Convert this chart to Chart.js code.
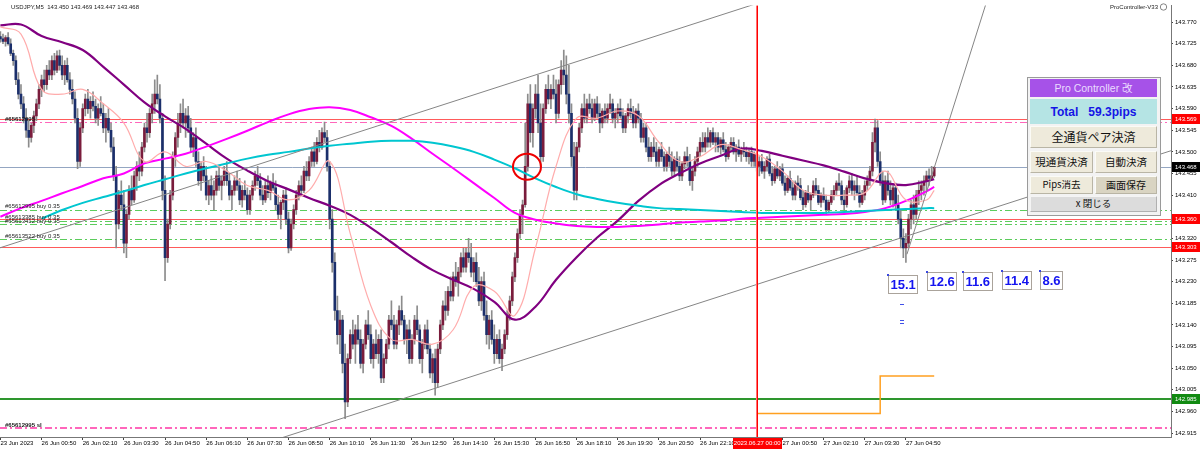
<!DOCTYPE html>
<html><head><meta charset="utf-8">
<script src="https://cdn.jsdelivr.net/npm/chart.js"></script>
<style>
html,body{margin:0;padding:0;background:#fff;}
#wrap{position:relative;width:1200px;height:450px;overflow:hidden;}
#c{position:absolute;left:0;top:0;}
.pnl{position:absolute;left:1027px;top:77px;width:134px;height:139px;background:#f3f3f3;border:1px solid #9a9a9a;box-sizing:border-box;}
.b{position:absolute;box-sizing:border-box;display:flex;align-items:center;justify-content:center;white-space:pre;font-family:"Noto Sans CJK JP","Liberation Sans",sans-serif;color:#111;border:1px solid;border-color:#fbfbf6 #b9b5a5 #b9b5a5 #fbfbf6;background:#eeeadb;line-height:1;}
</style></head><body>
<div id="wrap">
<canvas id="c" width="1200" height="450"></canvas>
<div class="pnl"></div>
<div class="b" style="left:1030px;top:79px;width:127px;height:18px;background:#a652e8;color:#eadcff;border-color:#a652e8;font-family:'Liberation Sans','Noto Sans CJK JP',sans-serif;font-size:10.5px;">Pro Controller 改</div>
<div class="b" style="left:1030px;top:99px;width:127px;height:25px;background:#b5e4e4;color:#1414e6;border-color:#b5e4e4;font-family:'Liberation Sans',sans-serif;font-weight:bold;font-size:12px;">Total   59.3pips</div>
<div class="b" style="left:1030px;top:126px;width:127px;height:22px;font-size:12px;">全通貨ペア決済</div>
<div class="b" style="left:1030px;top:151px;width:63px;height:22px;font-size:10.5px;">現通貨決済</div>
<div class="b" style="left:1095px;top:151px;width:62px;height:22px;font-size:10.5px;">自動決済</div>
<div class="b" style="left:1030px;top:176px;width:63px;height:18px;font-size:9.5px;">Pips消去</div>
<div class="b" style="left:1095px;top:176px;width:62px;height:18px;font-size:10px;background:#d9d4c2;">画面保存</div>
<div class="b" style="left:1030px;top:196px;width:127px;height:16px;font-size:9.5px;background:#dcdcdc;border-color:#f4f4f4 #b0b0b0 #b0b0b0 #f4f4f4;">x 閉じる</div>
</div>
<script>
// ---------------- DATA ----------------
// prices are BASE + value/1000
const BASE = 143;
const symbolTitle = "USDJPY,M5  143.450 143.469 143.447 143.468";
const indicatorName = "ProController-V33";

const openK = [
740,735,730,738,725,705,690,650,620,600, 570,545,530,555,575,600,630,650,640,670,
660,690,670,700,680,660,680,650,630,610, 570,480,550,590,610,590,605,595,570,590,
580,550,570,545,510,450,350,410,390,310, 370,420,400,450,470,460,510,550,540,580,
600,620,610,570,420,280,350,410,490,530, 560,580,560,575,550,510,530,480,440,470,
450,410,430,410,420,450,430,440,460,440, 410,420,440,430,400,420,410,380,410,430,
450,440,410,400,430,415,435,425,390,370, 395,410,360,300,350,380,410,430,420,460,
450,480,500,480,520,510,540,530,470,360, 270,170,120,150,60,-20,70,120,100,130,
110,60,100,140,120,70,100,80,110,30, 70,100,150,140,100,140,170,150,110,130,
70,110,150,130,70,100,130,90,40,70, 20,90,140,180,170,210,200,240,230,250,
280,260,290,280,250,270,230,190,230,160, 120,150,110,80,110,70,90,120,160,190,
240,280,330,370,390,470,600,540,590,620, 560,490,590,630,610,630,620,580,640,670,
660,620,580,490,420,510,550,590,570,600, 590,570,600,580,560,585,570,590,600,570,
580,590,575,550,575,590,580,560,585,570, 530,550,510,490,510,500,480,505,490,470,
495,480,460,485,470,450,475,490,480,440, 460,480,500,520,510,530,520,540,520,530,
510,525,505,490,510,520,500,510,495,505, 500,490,500,480,495,470,480,460,470,485,
455,440,465,450,465,435,420,445,425,410, 435,430,405,390,415,400,410,430,420,395,
410,400,380,395,410,420,435,430,400,390, 425,440,420,430,415,395,410,430,440,460,
520,550,480,440,400,440,420,400,425,390, 360,320,300,310,360,390,370,410,420,430,
440,450,445,450];
const highK = [
750,745,742,748,735,712,700,665,640,615, 590,565,560,585,610,640,660,670,680,690,
700,705,710,712,700,690,695,665,650,625, 590,560,600,620,630,615,625,610,600,615,
600,580,590,560,530,470,420,440,420,380, 430,450,460,480,500,520,560,580,590,620,
650,660,640,580,450,360,420,500,540,580, 600,610,590,595,570,540,550,500,480,490,
470,440,450,440,460,470,450,470,480,455, 430,450,460,445,430,440,425,420,440,460,
470,455,430,440,450,440,455,440,410,400, 420,425,375,360,390,420,440,450,470,480,
490,510,520,530,545,550,562,545,480,380, 290,200,170,160,100,80,130,150,140,160,
130,110,150,170,140,110,130,120,130,80, 110,160,190,160,150,180,200,160,140,150,
120,160,180,140,110,140,150,100,80,90, 100,150,190,210,220,240,250,270,260,290,
300,300,320,310,280,290,260,240,250,190, 160,170,140,120,130,100,130,170,200,250,
290,340,380,400,560,620,640,600,640,660, 600,600,640,660,640,660,650,650,690,712,
700,680,600,520,520,560,600,620,610,620, 610,610,615,600,590,600,600,620,610,590,
600,610,590,580,600,610,595,590,600,580, 560,560,530,520,530,520,510,520,500,500,
510,500,490,500,490,480,500,510,495,470, 490,510,530,540,540,550,545,550,540,540,
530,540,520,515,530,530,515,525,510,520, 510,505,510,500,505,490,495,480,490,495,
470,470,480,470,475,450,450,460,440,440, 450,445,420,420,430,415,440,445,430,415,
425,410,400,420,430,440,455,440,420,430, 450,455,440,450,430,420,440,450,470,540,
568,565,500,460,450,460,440,430,435,410, 380,340,330,370,400,410,420,440,440,450,
460,465,470,469];
const lowK = [
728,725,720,722,700,680,640,610,590,560, 530,510,520,540,565,590,615,625,630,650,
650,660,665,670,650,640,645,620,600,560, 465,470,540,575,580,570,585,560,555,575,
540,520,540,500,440,300,340,380,290,280, 360,390,395,420,440,450,500,520,530,560,
580,600,560,400,232,270,340,400,470,510, 540,550,530,540,500,490,470,430,420,440,
400,390,400,380,410,420,400,430,430,400, 380,410,420,390,385,400,370,370,400,420,
430,400,390,395,405,400,420,380,360,340, 380,350,290,295,340,370,400,410,415,440,
440,470,470,475,500,505,520,460,340,250, 150,100,80,40,-55,-30,60,90,60,100,
50,40,90,110,60,50,70,60,20,20, 60,90,130,90,90,120,140,100,80,60,
60,100,120,60,40,90,80,30,20,-6, 10,80,130,150,160,190,190,220,200,240,
250,250,270,240,230,220,180,170,150,100, 90,100,60,70,60,45,80,110,150,180,
230,270,320,330,385,460,520,510,570,540, 470,480,580,600,590,610,560,570,620,640,
600,560,470,400,400,500,540,560,560,580, 560,565,570,540,550,560,560,580,560,550,
560,570,540,540,560,570,550,550,560,520, 520,500,480,480,490,470,470,480,460,460,
470,450,450,460,440,440,465,470,430,420, 450,470,490,500,500,510,510,515,500,500,
495,500,480,485,500,495,480,490,480,490, 480,475,470,470,460,450,455,445,460,450,
430,435,445,440,430,410,415,420,400,400, 420,400,380,385,395,380,405,410,390,385,
395,370,375,390,400,410,420,390,380,385, 415,410,400,410,385,390,400,420,430,450,
500,470,430,390,395,410,390,385,380,350, 300,280,270,300,340,350,360,390,400,410,
420,430,440,447];
const closeK = [
735,730,738,725,705,690,650,620,600,570, 545,530,555,575,600,630,650,640,670,660,
690,670,700,680,660,680,650,630,610,570, 480,550,590,610,590,605,595,570,590,580,
550,570,545,510,450,350,410,390,310,370, 420,400,450,470,460,510,550,540,580,600,
620,610,570,420,280,350,410,490,530,560, 580,560,575,550,510,530,480,440,470,450,
410,430,410,420,450,430,440,460,440,410, 420,440,430,400,420,410,380,410,430,450,
440,410,400,430,415,435,425,390,370,395, 410,360,300,350,380,410,430,420,460,450,
480,500,480,520,510,540,530,470,360,270, 170,120,150,60,-20,70,120,100,130,110,
60,100,140,120,70,100,80,110,30,70, 100,150,140,100,140,170,150,110,130,70,
110,150,130,70,100,130,90,40,70,20, 90,140,180,170,210,200,240,230,250,280,
260,290,280,250,270,230,190,230,160,120, 150,110,80,110,70,90,120,160,190,240,
280,330,370,390,470,600,540,590,620,560, 490,590,630,610,630,620,580,640,670,660,
620,580,490,420,510,550,590,570,600,590, 570,600,580,560,585,570,590,600,570,580,
590,575,550,575,590,580,560,585,570,530, 550,510,490,510,500,480,505,490,470,495,
480,460,485,470,450,475,490,480,440,460, 480,500,520,510,530,520,540,520,530,510,
525,505,490,510,520,500,510,495,505,500, 490,500,480,495,470,480,460,470,485,455,
440,465,450,465,435,420,445,425,410,435, 430,405,390,415,400,410,430,420,395,410,
400,380,395,410,420,435,430,400,390,425, 440,420,430,415,395,410,430,440,460,520,
550,480,440,400,440,420,400,425,390,360, 320,300,310,360,390,370,410,420,430,440,
450,445,450,468];

// moving averages, at these bar indices
const maBars = [0,8,16,24,32,40,48,56,64,72,80,88,96,104,112,120,128,136,144,152,160,168,176,184,192,200,208,216,224,232,240,248,256,264,272,280,288,296,304,312,320,328,336,344,352,360,363];
const maPurpleK = [763,765,741,728,712,677,640,603,574,548,517,486,461,439,422,404,388,369,342,312,281,254,234,215,188,151,178,234,281,322,357,398,431,455,476,492,507,502,492,482,472,459,445,435,431,439,443];
const maMagentaK = [365,383,398,414,429,445,455,476,486,496,511,527,544,562,578,589,593,587,572,554,527,496,466,435,404,373,359,351,346,344,344,346,349,353,355,357,361,363,365,367,369,371,375,383,398,418,427];
const maCyanK = [null,null,361,379,394,406,418,431,443,455,466,476,486,494,500,507,513,517,521,523,523,519,511,500,484,466,445,427,412,402,394,388,383,381,379,377,375,373,373,373,373,375,377,379,381,383,383];
const maPinkK = [760,745,630,620,630,600,560,480,500,470,480,460,430,420,400,420,480,330,180,110,110,100,130,220,210,160,300,470,570,570,585,575,520,480,490,515,505,490,460,420,410,410,415,460,400,400,420];

// time axis
const timeTickBars = [0,16,32,48,64,80,96,112,128,144,160,176,192,208,224,240,256,272,288,304,320,336,352];
const timeTickLabels = ["23 Jun 2023","26 Jun 00:50","26 Jun 02:10","26 Jun 03:30","26 Jun 04:50","26 Jun 06:10","26 Jun 07:30","26 Jun 08:50","26 Jun 10:10","26 Jun 11:30","26 Jun 12:50","26 Jun 14:10","26 Jun 15:30","26 Jun 16:50","26 Jun 18:10","26 Jun 19:30","26 Jun 20:50","26 Jun 22:10","26 Jun 23:30","27 Jun 00:50","27 Jun 02:10","27 Jun 03:30","27 Jun 04:50"];
const priceTicks = [142.915,142.960,143.005,143.050,143.095,143.140,143.185,143.230,143.275,143.320,143.365,143.410,143.455,143.500,143.545,143.590,143.635,143.680,143.725,143.770];

// horizontal levels
const levelPrices = [143.569,143.562,143.468,143.380,143.360,143.357,143.351,143.318,143.303,142.985,142.925];
const levelKinds  = ['red','pink','current','green','red','green','green','green','red','stop','pink2'];
const orderLabels = ["#65612995","#65612995 buy 0.35","#65613385 buy 0.35","#65613412 buy 0.35","#65613522 buy 0.35","#65612995 sl"];
const orderLabelPrices = [143.569,143.380,143.357,143.351,143.318,142.925];
const tagPrices = [143.569,143.468,143.360,143.303,142.985];
const tagKinds  = ['red','black','red','red','green'];
const dayStartBar = 294;            // 2023.06.27 00:00
const dayStartLabel = "2023.06.27 00:00";

// trend lines (bar index, price)
const channelUpper = [[-1,143.299],[300,143.819]];
const channelLower = [[100,142.889],[460,143.511]];
const steepLine    = [[352.4,143.287],[385,143.840]];
const orangeStep   = [[294,142.956],[342,142.956],[342,143.034],[363,143.034]];
const circleAt     = [204.7,143.469];

// pips boxes
const pipsTexts  = ["15.1","12.6","11.6","11.4","8.6"];
const pipsBars   = [345.0,360.2,374.2,389.4,404.1];
const pipsPrices = [143.244,143.250,143.250,143.252,143.252];
const dashMarks  = [[349.7,143.183],[349.7,143.151],[349.7,143.145]];

// ---------------- STYLE ----------------
const FONT = "'Liberation Sans', Arial, sans-serif";
const BULL = '#7a1c3c', BEAR = '#1b2f6b', WICK = '#8c8c8c';
const levelStyle = {
  red:{c:'#ff5a5a',w:1,d:[]}, pink:{c:'#ff66bb',w:1,d:[7,3,2,3]}, current:{c:'#94a6c2',w:1,d:[]},
  green:{c:'#5ccc5c',w:1,d:[7,3,2,3]}, stop:{c:'#2e962e',w:2,d:[]}, pink2:{c:'#ff66bb',w:2,d:[7,3,2,3]}
};
const labelOffsets = [2.5,-2,-1.5,-0.5,-1,-1.5];
const tagColor = {red:'#ff0000',black:'#000000',green:'#118a11'};

const P = v => v == null ? null : BASE + v/1000;
const n = openK.length;
const wickData = [], bodyData = [], bodyColors = [];
for (let i = 0; i < n; i++) {
  wickData.push({x:i, y:[P(lowK[i]), P(highK[i])]});
  bodyData.push({x:i, y:[P(openK[i]), P(closeK[i])]});
  bodyColors.push(closeK[i] >= openK[i] ? BULL : BEAR);
}
const maSeries = vals => maBars.map((b,j)=> vals[j]==null ? null : {x:b, y:P(vals[j])}).filter(Boolean);
const pts = arr => arr.map(p=>({x:p[0], y:p[1]}));

const overlay = {
  id:'overlay',
  beforeDatasetsDraw(chart){
    const {ctx, chartArea:a, scales:{x, y}} = chart;
    ctx.save();
    ctx.beginPath(); ctx.rect(a.left, a.top, a.right-a.left, a.bottom-a.top); ctx.clip();
    levelPrices.forEach((p,j)=>{
      const s = levelStyle[levelKinds[j]];
      const yy = Math.round(y.getPixelForValue(p)) + (s.w%2 ? 0.5 : 0);
      ctx.strokeStyle = s.c; ctx.lineWidth = s.w; ctx.setLineDash(s.d);
      ctx.beginPath(); ctx.moveTo(a.left, yy); ctx.lineTo(a.right, yy); ctx.stroke();
    });
    ctx.setLineDash([]);
    ctx.restore();
  },
  afterDatasetsDraw(chart){
    const {ctx, chartArea:a, scales:{x, y}} = chart;
    ctx.save();
    // day separator
    const vx = Math.round(x.getPixelForValue(dayStartBar));
    ctx.fillStyle = '#ff7070';
    ctx.fillRect(vx-1, a.top, 1, a.bottom - a.top);
    ctx.fillStyle = '#ff0000';
    ctx.fillRect(vx, a.top, 1, a.bottom - a.top);
    // order labels
    ctx.fillStyle = '#222'; ctx.textBaseline = 'alphabetic'; ctx.textAlign = 'left';
    orderLabels.forEach((t,j)=>{
      const yy = y.getPixelForValue(orderLabelPrices[j]) + labelOffsets[j];
      const bold = (j === 0 || j === orderLabels.length-1);
      ctx.font = (bold ? "bold " : "") + "6px " + FONT;
      ctx.fillText(t, 5, yy);
    });
    // red circle
    ctx.strokeStyle = '#ee0000'; ctx.lineWidth = 2;
    ctx.beginPath();
    ctx.ellipse(x.getPixelForValue(circleAt[0]), y.getPixelForValue(circleAt[1]), 14, 13, 0, 0, Math.PI*2);
    ctx.stroke();
    // pips boxes
    ctx.font = "bold 13px " + FONT; ctx.textBaseline = 'middle';
    pipsTexts.forEach((t,j)=>{
      const bx = Math.round(x.getPixelForValue(pipsBars[j])), by = Math.round(y.getPixelForValue(pipsPrices[j]));
      const w = Math.round(ctx.measureText(t).width + 4), h = 18;
      ctx.fillStyle = '#ffffff'; ctx.fillRect(bx, by, w, h);
      ctx.strokeStyle = '#aaa39b'; ctx.lineWidth = 1; ctx.strokeRect(bx+0.5, by+0.5, w, h);
      ctx.fillStyle = '#1414f0'; ctx.fillText(t, bx+2.5, by+h/2+1);
      ctx.fillStyle = '#3a48e0'; ctx.fillRect(bx-1, by-1, 2, 2);
    });
    ctx.fillStyle = '#4050e8';
    dashMarks.forEach(m=>{
      ctx.fillRect(Math.round(x.getPixelForValue(m[0])), Math.round(y.getPixelForValue(m[1])), 4, 1);
    });
    ctx.restore();
  },
  afterDraw(chart){
    const {ctx, chartArea:a, scales:{x, y}} = chart;
    ctx.save();
    ctx.font = "6px " + FONT; ctx.textBaseline = 'middle';
    // title
    ctx.fillStyle = '#222'; ctx.textAlign = 'left';
    ctx.fillText(symbolTitle, 11, 7);
    ctx.textAlign = 'right';
    ctx.fillText(indicatorName, 1158, 7);
    ctx.strokeStyle = '#666'; ctx.lineWidth = 0.8;
    ctx.beginPath(); ctx.arc(1163.5, 7, 3.2, 0, Math.PI*2); ctx.stroke();
    // price tags
    ctx.textAlign = 'left';
    tagPrices.forEach((p,j)=>{
      const yy = Math.round(y.getPixelForValue(p));
      ctx.fillStyle = tagColor[tagKinds[j]];
      ctx.fillRect(a.right+1, yy-5, 1200-a.right-1, 10);
      ctx.fillStyle = '#ffffff';
      ctx.fillText(p.toFixed(3), a.right+4, yy+0.5);
    });
    // day start tag
    const vx = x.getPixelForValue(dayStartBar);
    ctx.fillStyle = '#ff0000';
    ctx.fillRect(Math.round(vx-24), a.bottom+1, 49, 11);
    ctx.fillStyle = '#ffffff'; ctx.textAlign = 'center';
    ctx.fillText(dayStartLabel, vx+0.5, a.bottom+6.5);
    ctx.restore();
  }
};

Chart.defaults.font.family = FONT;
Chart.defaults.font.size = 6;
Chart.defaults.color = '#000';

new Chart(document.getElementById('c'), {
  type: 'bar',
  data: {
    datasets: [
      {type:'line', label:'MA pink', data:maSeries(maPinkK), borderColor:'#ffacac', borderWidth:1.2, pointRadius:0, tension:0.4, order:1},
      {type:'line', label:'MA cyan', data:maSeries(maCyanK), borderColor:'#00c6d0', borderWidth:2, pointRadius:0, tension:0.4, order:1},
      {type:'line', label:'MA magenta', data:maSeries(maMagentaK), borderColor:'#ff00ff', borderWidth:2, pointRadius:0, tension:0.4, order:1},
      {type:'line', label:'MA purple', data:maSeries(maPurpleK), borderColor:'#800080', borderWidth:2.2, pointRadius:0, tension:0.4, order:1},
      {type:'line', label:'channel upper', data:pts(channelUpper), borderColor:'#858585', borderWidth:1, pointRadius:0, order:0},
      {type:'line', label:'channel lower', data:pts(channelLower), borderColor:'#858585', borderWidth:1, pointRadius:0, order:0},
      {type:'line', label:'steep', data:pts(steepLine), borderColor:'#858585', borderWidth:1, pointRadius:0, order:0},
      {type:'line', label:'orange', data:pts(orangeStep), borderColor:'#ffa020', borderWidth:1.5, pointRadius:0, order:0},
      {type:'bar', label:'body', data:bodyData, backgroundColor:bodyColors, barThickness:2, minBarLength:1, grouped:false, order:4},
      {type:'bar', label:'wick', data:wickData, backgroundColor:WICK, barThickness:1, grouped:false, order:5}
    ]
  },
  options: {
    responsive:false, devicePixelRatio:1, animation:false,
    layout:{padding:0},
    plugins:{legend:{display:false}, tooltip:{enabled:false}},
    scales:{
      x:{type:'linear', min:-0.155, max:455.05, offset:false, position:'bottom',
         grid:{display:true, drawOnChartArea:false, drawTicks:true, tickLength:3, color:'#444', offset:false},
         border:{display:true, color:'#777'},
         afterBuildTicks:s=>{ s.ticks = timeTickBars.map(v=>({value:v})); },
         afterFit:s=>{ s.height = 13; },
         ticks:{autoSkip:false, maxRotation:0, minRotation:0, align:'start', padding:0, font:{size:6}, color:'#000',
                callback:(v,i)=>timeTickLabels[i]}},
      y:{type:'linear', position:'right', min:142.9069, max:143.8043, beginAtZero:false,
         grid:{display:true, drawOnChartArea:false, drawTicks:true, tickLength:2, color:'#444'},
         border:{display:true, color:'#777'},
         afterBuildTicks:s=>{ s.ticks = priceTicks.map(v=>({value:v})); },
         afterFit:s=>{ s.width = 29; },
         ticks:{autoSkip:false, padding:2, font:{size:6}, color:'#000', callback:v=>Number(v).toFixed(3)}}
    }
  },
  plugins:[overlay]
});
</script>
</body></html>
